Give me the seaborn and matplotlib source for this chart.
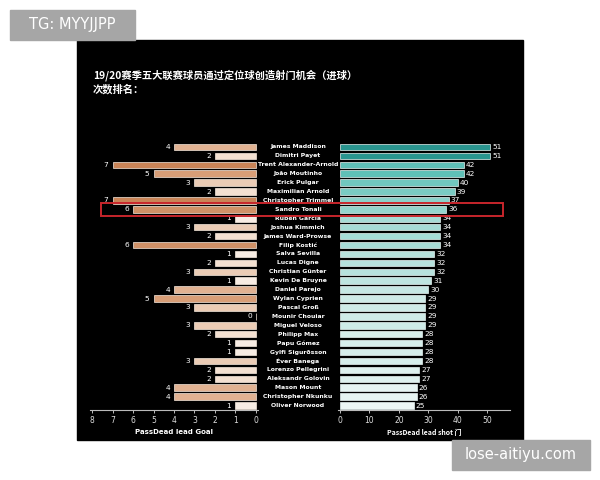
import matplotlib
matplotlib.use("Agg")
import matplotlib.pyplot as plt
import matplotlib.transforms as mtransforms
from matplotlib.patches import Rectangle
import seaborn as sns

players = ["James Maddison", "Dimitri Payet", "Trent Alexander-Arnold", "João Moutinho",
           "Erick Pulgar", "Maximilian Arnold", "Christopher Trimmel", "Sandro Tonali",
           "Rubén García", "Joshua Kimmich", "James Ward-Prowse", "Filip Kostić",
           "Salva Sevilla", "Lucas Digne", "Christian Günter", "Kevin De Bruyne",
           "Daniel Parejo", "Wylan Cyprien", "Pascal Groß", "Mounir Chouiar",
           "Miguel Veloso", "Philipp Max", "Papu Gómez", "Gylfi Sigurðsson",
           "Éver Banega", "Lorenzo Pellegrini", "Aleksandr Golovin", "Mason Mount",
           "Christopher Nkunku", "Oliver Norwood"]
goals = [4, 2, 7, 5, 3, 2, 7, 6, 1, 3, 2, 6, 1, 2, 3, 1, 4, 5, 3, 0,
         3, 2, 1, 1, 3, 2, 2, 4, 4, 1]
shots = [51, 51, 42, 42, 40, 39, 37, 36, 34, 34, 34, 34, 32, 32, 32, 31, 30, 29, 29, 29,
         29, 28, 28, 28, 28, 27, 27, 26, 26, 25]
left_ticks = [8, 7, 6, 5, 4, 3, 2, 1, 0]
right_ticks = [0, 10, 20, 30, 40, 50]
highlight = "Sandro Tonali"

plt.rcParams["font.family"] = ["DejaVu Sans"]
fig = plt.figure(figsize=(6, 4.8), dpi=100)
fig.patch.set_facecolor("white")

# black panel + watermarks (behind the axes)
fig.patches.append(Rectangle((77 / 600, 1 - 440 / 480), 446 / 600, 400 / 480,
                             transform=fig.transFigure, color="black", zorder=-2))
fig.patches.append(Rectangle((10 / 600, 1 - 40 / 480), 125 / 600, 30 / 480,
                             transform=fig.transFigure, color="#a6a6a6", zorder=-1))
fig.text(72 / 600, 1 - 25 / 480, "TG: MYYJJPP", color="white", fontsize=10.5,
         ha="center", va="center")
fig.patches.append(Rectangle((452 / 600, 1 - 470 / 480), 138 / 600, 30 / 480,
                             transform=fig.transFigure, color="#a6a6a6", zorder=-1))
fig.text(521 / 600, 1 - 455 / 480, "lose-aitiyu.com", color="white", fontsize=10.5,
         ha="center", va="center")

cjk = ["Noto Sans CJK SC", "DejaVu Sans"]
fig.text(93 / 600, 1 - 75 / 480, "19/20赛季五大联赛球员通过定位球创造射门机会（进球）",
         color="white", fontsize=7.4, fontweight="bold", family=cjk, va="center")
fig.text(93 / 600, 1 - 89 / 480, "次数排名：", color="white", fontsize=7.4,
         fontweight="bold", family=cjk, va="center")

bottom, height = 1 - 410 / 480, 267.5 / 480
ax_l = fig.add_axes([90 / 600, bottom, 168 / 600, height])
ax_r = fig.add_axes([338 / 600, bottom, 172 / 600, height])

goal_cmap = sns.blend_palette(["#fbf7f4", "#f2dccb", "#daa27c", "#c98457"], as_cmap=True)
shot_cmap = sns.blend_palette(["#edf7f5", "#a9ddd7", "#5cbfb6", "#2a958f"], as_cmap=True)
goal_cols = [goal_cmap(g / 7) for g in goals]
shot_cols = [shot_cmap((s - 25) / 26) for s in shots]

sns.barplot(x=goals, y=players, hue=players, palette=goal_cols, legend=False,
            orient="h", width=0.72, saturation=1, edgecolor="#f6e9de", linewidth=0.5, ax=ax_l)
sns.barplot(x=shots, y=players, hue=players, palette=shot_cols, legend=False,
            orient="h", width=0.72, saturation=1, edgecolor="#e8f4f2", linewidth=0.5, ax=ax_r)

for ax in (ax_l, ax_r):
    ax.set_facecolor("black")
    ax.patch.set_alpha(0)
    for s in ("top", "right", "left"):
        ax.spines[s].set_visible(False)
    ax.spines["bottom"].set_color("#bbbbbb")
    ax.spines["bottom"].set_linewidth(0.8)
    ax.set_yticks([])
    ax.set_ylabel("")
    ax.set_ylim(29.5, -0.5)
    ax.tick_params(axis="x", colors="#dddddd", labelsize=5.5, length=2, width=0.6, pad=2)

ax_l.set_xlim(8.1, -0.1)
ax_l.set_xticks(left_ticks)
ax_r.set_xlim(-0.7, 57.8)
ax_r.set_xticks(right_ticks)
ax_l.set_xlabel("PassDead lead Goal", color="white", fontsize=5, fontweight="bold", labelpad=3)
ax_r.set_xlabel("PassDead lead shot 门", color="white", fontsize=5, fontweight="bold",
                labelpad=3, family=cjk)

for i, (g, s) in enumerate(zip(goals, shots)):
    ax_l.annotate(str(g), (g, i), xytext=(-3, 0), textcoords="offset points",
                  ha="right", va="center", color="white", fontsize=5.3)
    ax_r.annotate(str(s), (s, i), xytext=(1.5, 0), textcoords="offset points",
                  ha="left", va="center", color="white", fontsize=5.3)

name_tr = mtransforms.blended_transform_factory(fig.transFigure, ax_r.transData)
for i, name in enumerate(players):
    ax_r.text(298 / 600, i, name, transform=name_tr, ha="center", va="center",
              color="white", fontsize=4.4, fontweight="bold", clip_on=False)

# highlight box
row = players.index(highlight)
y0 = ax_r.transData.transform((0, row + 0.72))[1] / fig.bbox.height
y1 = ax_r.transData.transform((0, row - 0.72))[1] / fig.bbox.height
fig.patches.append(Rectangle((101 / 600, y0), 402 / 600, y1 - y0, transform=fig.transFigure,
                             fill=False, edgecolor="#c8262c", linewidth=1.4, zorder=5))

fig.savefig("out.png", dpi=100)
